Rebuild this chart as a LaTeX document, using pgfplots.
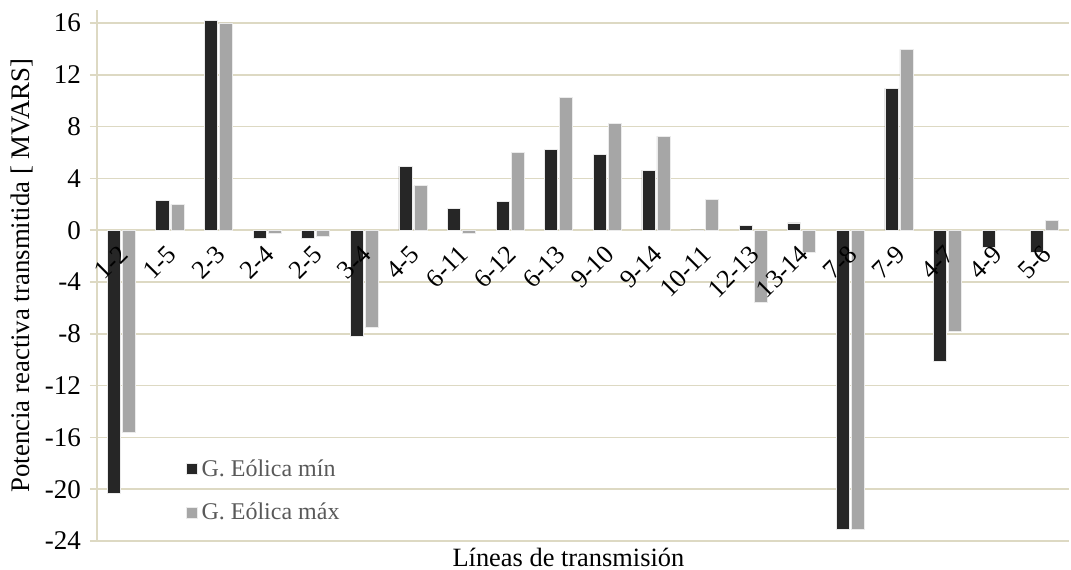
\documentclass[border=0pt]{standalone}
\usepackage{pgfplots}
\pgfplotsset{compat=1.18}
\usepackage{pgfplotstable}
\usepackage{fontspec}
\setmainfont{Liberation Serif}

\definecolor{gridc}{RGB}{221,217,195}
\definecolor{minc}{RGB}{38,38,38}
\definecolor{maxc}{RGB}{166,166,166}
\definecolor{legtext}{RGB}{89,89,89}

\pgfplotsset{
    base/.style={
        at={(0,0)}, anchor=south west,
        scale only axis,
        width=486bp, height=265.5bp,
        xmin=-0.5, xmax=19.5,
        ymin=-24, ymax=17,
    },
}

% columns: category index, G. Eolica min, G. Eolica max
\pgfplotstableread{
x   gmin    gmax
0   -20.35  -15.6
1   2.32    2.0
2   16.2    16.0
3   -0.65   -0.25
4   -0.65   -0.45
5   -8.2    -7.47
6   4.95    3.42
7   1.68    -0.25
8   2.19    5.98
9   6.23    10.25
10  5.85    8.25
11  4.64    7.26
12  0.02    2.37
13  0.39    -5.6
14  0.56    -1.72
15  -23.1   -23.1
16  10.95   13.96
17  -10.12  -7.8
18  -1.34   0.0
19  -1.68   0.77
}\lineas

\begin{document}
\begin{tikzpicture}[font=\fontsize{12bp}{14bp}\selectfont]
\begin{axis}[
    base,
    ybar=1bp, bar width=6.5bp,
    ytick={-24,-20,...,16},
    xtick=\empty,
    axis y line*=left,
    axis x line*=middle,
    hide obscured y ticks=false,
    axis line style={draw=gridc, line width=0.8pt},
    ymajorgrids=true,
    grid style={draw=gridc, line width=0.8pt},
    ytick style={draw=gridc, line width=0.8pt},
    tick align=outside,
    major tick length=3.5bp,
    /pgf/number format/assume math mode=true,
    yticklabel style={font=\fontsize{13.5bp}{15bp}\selectfont, xshift=-1bp},
    ylabel={Potencia reactiva transmitida [ MVARS]},
    ylabel style={font=\fontsize{13.4bp}{15bp}\selectfont, yshift=-1bp},
    xlabel={Líneas de transmisión},
    xlabel style={font=\fontsize{13.2bp}{15bp}\selectfont,
        at={(rel axis cs:0.485,0)}, anchor=north, yshift=0bp},
    legend style={at={(0.085,0.094)}, anchor=west, draw=none, fill=none,
        text=legtext, row sep=8bp, legend cell align=left,
        /tikz/every even column/.append style={column sep=1bp}},
    legend image code/.code={\fill[#1] (0bp,-2.7bp) rectangle (5.4bp,2.7bp);},
]
\addplot[fill=minc, draw=white!92!black, line width=0.4pt] table[x=x, y=gmin] {\lineas};
\addplot[fill=maxc, draw=white!92!black, line width=0.4pt] table[x=x, y=gmax] {\lineas};
\legend{G. Eólica mín, G. Eólica máx}
\end{axis}
% second axis on top: only the category labels, drawn over the bars
\begin{axis}[
    base,
    axis y line=none,
    axis x line*=middle,
    axis line style={draw=none},
    xtick={0,...,19},
    xticklabels={1-2,1-5,2-3,2-4,2-5,3-4,4-5,6-11,6-12,6-13,9-10,9-14,10-11,12-13,13-14,7-8,7-9,4-7,4-9,5-6},
    hide obscured x ticks=false,
    xtick style={draw=none},
    xticklabel style={font=\fontsize{13bp}{15bp}\selectfont,
        xshift=3.5bp, yshift=-7.5bp, rotate=45, anchor=east},
]
\end{axis}
\pgfresetboundingbox
\path[use as bounding box] (-48.5bp,-14.5bp) rectangle (487bp,270.5bp);
\end{tikzpicture}
\end{document}
